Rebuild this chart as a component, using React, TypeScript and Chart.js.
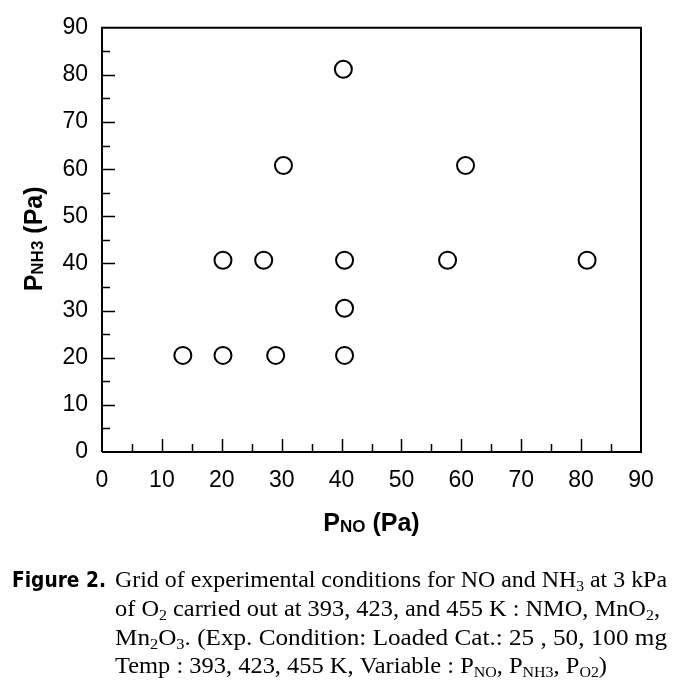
import React, { useEffect, useRef } from "react";
import { Chart, registerables } from "chart.js";

Chart.register(...registerables);

const pNO = [13.5, 20.2, 29, 40.5, 40.5, 20.2, 27, 40.5, 57.7, 81, 30.3, 60.7, 40.3];
const pNH3 = [20.5, 20.5, 20.5, 20.5, 30.5, 40.7, 40.7, 40.7, 40.7, 40.7, 60.8, 60.8, 81.2];
const axisMin = 0;
const axisMax = 90;
const majorStep = 10;
const minorStep = 5;

type Seg = { t: string; sub?: boolean };
const captionLabel = "Figure 2.";
const captionLines: Seg[][] = [
  [{ t: "Grid of experimental conditions for NO and NH" }, { t: "3", sub: true }, { t: " at 3 kPa" }],
  [{ t: "of O" }, { t: "2", sub: true }, { t: " carried out at 393, 423, and 455 K : NMO, MnO" }, { t: "2", sub: true }, { t: "," }],
  [{ t: "Mn" }, { t: "2", sub: true }, { t: "O" }, { t: "3", sub: true }, { t: ". (Exp. Condition: Loaded Cat.: 25 , 50, 100 mg" }],
  [{ t: "Temp : 393, 423, 455 K, Variable : P" }, { t: "NO", sub: true }, { t: ", P" }, { t: "NH3", sub: true }, { t: ", P" }, { t: "O2", sub: true }, { t: ")" }],
];
const xTitle: Seg[] = [{ t: "P" }, { t: "NO", sub: true }, { t: " (Pa)" }];
const yTitle: Seg[] = [{ t: "P" }, { t: "NH3", sub: true }, { t: " (Pa)" }];

function segWidth(ctx: CanvasRenderingContext2D, segs: Seg[], main: string, sub: string) {
  let w = 0;
  for (const s of segs) {
    ctx.font = s.sub ? sub : main;
    w += ctx.measureText(s.t).width;
  }
  return w;
}

function drawSegs(ctx: CanvasRenderingContext2D, segs: Seg[], x: number, y: number, main: string, sub: string, subDy: number) {
  let cx = x;
  ctx.textAlign = "left";
  ctx.textBaseline = "alphabetic";
  for (const s of segs) {
    ctx.font = s.sub ? sub : main;
    ctx.fillText(s.t, cx, s.sub ? y + subDy : y);
    cx += ctx.measureText(s.t).width;
  }
}

const decorPlugin = {
  id: "decor",
  afterDraw(chart: any) {
    const ctx: CanvasRenderingContext2D = chart.ctx;
    const { left, right, top, bottom } = chart.chartArea;
    const xs = chart.scales.x;
    const ys = chart.scales.y;
    ctx.save();
    ctx.strokeStyle = "#000";
    ctx.lineWidth = 2;
    ctx.beginPath();
    ctx.moveTo(left, bottom);
    ctx.lineTo(left, top);
    ctx.lineTo(right, top);
    ctx.lineTo(right, bottom);
    ctx.lineTo(left, bottom);
    ctx.stroke();
    ctx.lineWidth = 1.5;
    ctx.beginPath();
    for (let v = axisMin + minorStep; v < axisMax; v += minorStep) {
      const len = v % majorStep === 0 ? 13 : 8;
      const px = Math.round(xs.getPixelForValue(v)) + 0.5;
      ctx.moveTo(px, bottom);
      ctx.lineTo(px, bottom - len);
      const py = Math.round(ys.getPixelForValue(v)) + 0.5;
      ctx.moveTo(left, py);
      ctx.lineTo(left + len, py);
    }
    ctx.stroke();

    ctx.fillStyle = "#000";
    const tMain = "bold 25px 'Liberation Sans', Arial, sans-serif";
    const tSub = "bold 17px 'Liberation Sans', Arial, sans-serif";
    const xw = segWidth(ctx, xTitle, tMain, tSub);
    drawSegs(ctx, xTitle, (left + right) / 2 - xw / 2, 531, tMain, tSub, 1);
    ctx.save();
    ctx.translate(42, (top + bottom) / 2 - 1);
    ctx.rotate(-Math.PI / 2);
    const yw = segWidth(ctx, yTitle, tMain, tSub);
    drawSegs(ctx, yTitle, -yw / 2, 0, tMain, tSub, 1);
    ctx.restore();

    // caption
    const cMain = "23px 'Liberation Serif', 'Times New Roman', serif";
    const cSub = "15px 'Liberation Serif', 'Times New Roman', serif";
    const baselines = [587, 616, 645, 673];
    const startX = 115;
    const ends = [667, 660, 667, 607];
    captionLines.forEach((segs, i) => {
      const nat = segWidth(ctx, segs, cMain, cSub);
      const s = (ends[i] - startX) / nat;
      ctx.save();
      ctx.translate(startX, baselines[i]);
      ctx.scale(s, 1);
      drawSegs(ctx, segs, 0, 0, cMain, cSub, 4);
      ctx.restore();
    });
    ctx.font = "bold 21px 'DejaVu Sans', 'Liberation Sans', sans-serif";
    const fw = ctx.measureText(captionLabel).width;
    ctx.save();
    ctx.translate(12, baselines[0]);
    ctx.scale(94 / fw, 1);
    ctx.textAlign = "left";
    ctx.fillText(captionLabel, 0, 0);
    ctx.restore();
    ctx.restore();
  },
};

export default function App() {
  const ref = useRef<HTMLCanvasElement>(null);
  useEffect(() => {
    if (!ref.current) return;
    const tickFont = { family: "'Liberation Sans', Arial, sans-serif", size: 23 };
    const chart = new Chart(ref.current, {
      type: "scatter",
      data: {
        datasets: [
          {
            data: pNO.map((x, i) => ({ x, y: pNH3[i] })),
            pointStyle: "circle",
            pointRadius: 8.5,
            pointHoverRadius: 8.5,
            borderWidth: 2,
            borderColor: "#000",
            backgroundColor: "#fff",
            showLine: false,
            clip: false,
          } as any,
        ],
      },
      options: {
        animation: false,
        responsive: false,
        devicePixelRatio: 1,
        layout: { padding: { left: 0, top: 21, right: 46, bottom: 0 } },
        plugins: { legend: { display: false }, tooltip: { enabled: false } },
        scales: {
          x: {
            type: "linear",
            min: axisMin,
            max: axisMax,
            ticks: { stepSize: majorStep, color: "#000", font: tickFont, padding: 15, maxRotation: 0 },
            grid: { display: false, drawTicks: false },
            border: { display: false },
            afterFit: (s: any) => {
              s.height = 235;
            },
          },
          y: {
            type: "linear",
            min: axisMin,
            max: axisMax,
            ticks: { stepSize: majorStep, color: "#000", font: tickFont, padding: 14 },
            grid: { display: false, drawTicks: false },
            border: { display: false },
            afterFit: (s: any) => {
              s.width = 102;
            },
          },
        },
      } as any,
      plugins: [decorPlugin],
    });
    return () => chart.destroy();
  }, []);
  return (
    <div style={{ position: "fixed", left: 0, top: 0, width: 687, height: 687, background: "#fff" }}>
      <canvas ref={ref} width={687} height={687} style={{ display: "block" }} />
    </div>
  );
}
